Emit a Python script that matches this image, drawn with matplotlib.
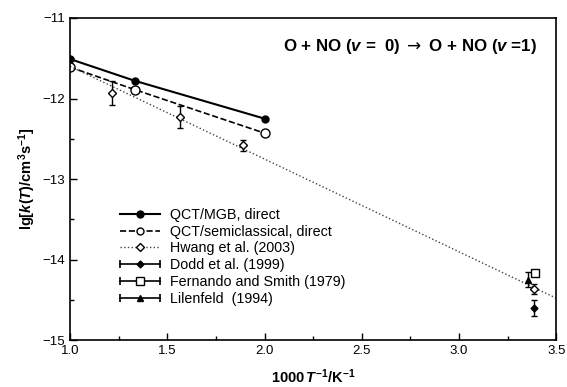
import numpy as np
import matplotlib.pyplot as plt
from matplotlib.lines import Line2D
from matplotlib.legend_handler import HandlerBase

plt.rcParams['font.family'] = ['Liberation Sans', 'DejaVu Sans']
plt.rcParams['mathtext.fontset'] = 'custom'
plt.rcParams['mathtext.rm'] = 'Liberation Sans:bold'
plt.rcParams['mathtext.it'] = 'Liberation Sans:italic:bold'
plt.rcParams['mathtext.bf'] = 'Liberation Sans:bold'
plt.rcParams['mathtext.sf'] = 'DejaVu Sans'

# QCT results (1000/T, lg k)
qct_mgb_x = [1.0, 1.333, 2.0]
qct_mgb_y = [-11.51, -11.78, -12.25]
qct_sc_x = [1.0, 1.333, 2.0]
qct_sc_y = [-11.61, -11.89, -12.43]

# experiments
hwang_x = [1.215, 1.566, 1.89, 3.387]
hwang_y = [-11.93, -12.23, -12.58, -14.37]
hwang_err = [0.15, 0.14, 0.07, 0.06]
hwang_fit_x = [1.0, 3.5]
hwang_fit_y = [-11.60, -14.48]

dodd_x = [3.387]
dodd_y = [-14.60]
dodd_err = [0.10]

fern_x = [3.39]
fern_y = [-14.17]
fern_err = [0.03]

lilen_x = [3.356]
lilen_y = [-14.25]
lilen_err = [0.09]


class HandlerCapped(HandlerBase):
    # horizontal bar with end caps and the point marker in the middle
    def create_artists(self, legend, orig_handle, xdescent, ydescent,
                       width, height, fontsize, trans):
        y = height / 2 - ydescent
        x0, x1 = -xdescent, width - xdescent
        bar = Line2D([x0, x1], [y, y], color='k', lw=1.2)
        caps = Line2D([x0, x1], [y, y], ls='none', marker='|', ms=6,
                      mew=1.2, color='k')
        mk = Line2D([(x0 + x1) / 2], [y], ls='none',
                    marker=orig_handle.get_marker(),
                    ms=orig_handle.get_markersize(),
                    mfc=orig_handle.get_markerfacecolor(),
                    mec='k', mew=1.0)
        for a in (bar, caps, mk):
            a.set_transform(trans)
        return [bar, caps, mk]


fig = plt.figure(figsize=(5.67, 3.87), dpi=100)
ax = fig.add_axes([0.1235, 0.1214, 0.8575, 0.8321])

ax.plot(qct_mgb_x, qct_mgb_y, '-', color='k', lw=1.5, marker='o', ms=5)
ax.plot(qct_sc_x, qct_sc_y, '--', color='k', lw=1.2, marker='o', ms=6.5,
        mfc='white', mew=1.0)
ax.plot(hwang_fit_x, hwang_fit_y, ':', color='#444444', lw=1.0)
ax.errorbar(hwang_x, hwang_y, yerr=hwang_err, fmt='D', ms=4.5, mfc='white',
            mec='k', mew=1.0, ecolor='k', elinewidth=1.0, capsize=2.5)
ax.errorbar(dodd_x, dodd_y, yerr=dodd_err, fmt='D', ms=3.5, color='k',
            elinewidth=1.0, capsize=2.5)
ax.errorbar(fern_x, fern_y, yerr=fern_err, fmt='s', ms=6, mfc='white',
            mec='k', mew=1.0, ecolor='k', elinewidth=1.0, capsize=2)
ax.errorbar(lilen_x, lilen_y, yerr=lilen_err, fmt='^', ms=4, color='k',
            elinewidth=1.0, capsize=2.5)

h_mgb = Line2D([], [], color='k', lw=1.5, marker='o', ms=5)
h_sc = Line2D([], [], color='k', lw=1.2, ls='--', marker='o', ms=5,
              mfc='white')
h_hw = Line2D([], [], color='#444444', lw=1.0, ls=':', marker='D', ms=4,
              mfc='white', mec='k')
h_dodd = Line2D([], [], marker='D', ms=3.5, mfc='k')
h_fern = Line2D([], [], marker='s', ms=6, mfc='white')
h_lil = Line2D([], [], marker='^', ms=4, mfc='k')
capped = HandlerCapped()

ax.legend([h_mgb, h_sc, h_hw, h_dodd, h_fern, h_lil],
          ['QCT/MGB, direct', 'QCT/semiclassical, direct', 'Hwang et al. (2003)',
           'Dodd et al. (1999)', 'Fernando and Smith (1979)', 'Lilenfeld  (1994)'],
          loc='lower left', bbox_to_anchor=(0.09, 0.088), frameon=False,
          fontsize=10.3, handlelength=2.8, handletextpad=0.7, labelspacing=0.2,
          borderaxespad=0,
          handler_map={h_dodd: capped, h_fern: capped, h_lil: capped})

ax.text(0.961, 0.91, r'O + NO ($v$ =  0) $\mathsf{\rightarrow}$ O + NO ($v$ =1)',
        transform=ax.transAxes, ha='right', va='center', fontsize=12.2,
        fontweight='bold')

ax.set_xlim(1.0, 3.5)
ax.set_ylim(-15, -11)
ax.set_xticks(np.arange(1.0, 3.51, 0.5))
ax.set_xticks(np.arange(1.25, 3.5, 0.5), minor=True)
ax.set_yticks([-15, -14, -13, -12, -11])
ax.set_yticks([-14.5, -13.5, -12.5, -11.5], minor=True)
ax.tick_params(direction='in', labelsize=9.5, length=5, width=1)
ax.tick_params(which='minor', direction='in', length=3, width=1)
for s in ax.spines.values():
    s.set_linewidth(1.2)

ax.set_xlabel(r'1000$\,T^{-1}$/K$^{-1}$', fontsize=10.5, fontweight='bold')
ax.set_ylabel(r'lg[$k$($T$)/cm$^{3}$s$^{-1}$]', fontsize=10.5,
              fontweight='bold')
ax.yaxis.set_label_coords(-0.066, 0.5)
ax.xaxis.set_label_coords(0.5, -0.085)

fig.savefig('out.png', dpi=100)
